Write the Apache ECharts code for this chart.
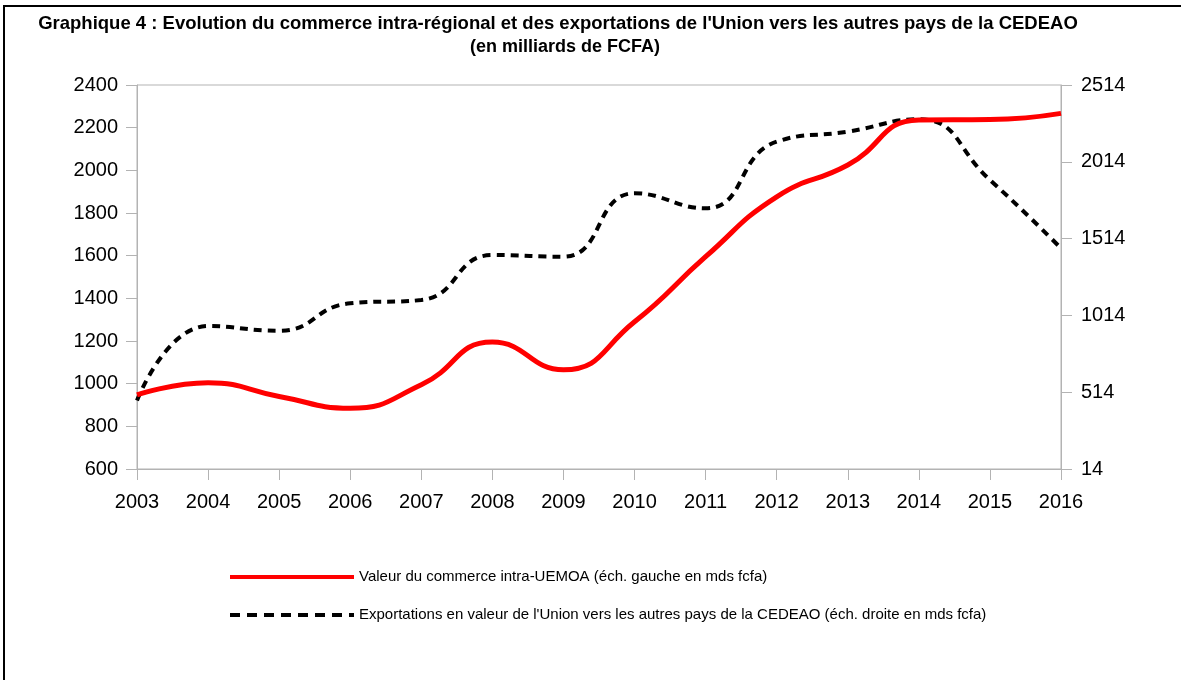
<!DOCTYPE html>
<html>
<head>
<meta charset="utf-8">
<script src="https://cdn.jsdelivr.net/npm/echarts@6/dist/echarts.min.js"></script>
<style>
  html, body { margin: 0; padding: 0; background: #fff; }
  #main { width: 1181px; height: 680px; }
</style>
</head>
<body>
<div id="main"></div>
<script>
// années
var years = ['2003', '2004', '2005', '2006', '2007', '2008', '2009', '2010', '2011', '2012', '2013', '2014', '2015', '2016'];
// commerce intra-UEMOA (éch. gauche)
var intraUemoa = [947, 1004, 940, 885, 995, 1195, 1065, 1290, 1595, 1876, 2025, 2236, 2238, 2267];
// exportations vers la CEDEAO (éch. droite)
var exportsCedeao = [460, 945, 914, 1093, 1114, 1407, 1396, 1809, 1711, 2145, 2210, 2291, 1896, 1451];

var nameIntra = 'Valeur du commerce intra-UEMOA (éch. gauche en mds fcfa)';
var nameExport = "Exportations en valeur de l'Union vers les autres pays de la CEDEAO (éch. droite en mds fcfa)";

var chart = echarts.init(document.getElementById('main'));

var axisGray = '#b3b3b3';
var font = 'Liberation Sans, Arial, sans-serif';
// pas de séparateur de milliers
var plain = function (v) { return String(v); };

chart.setOption({
  animation: false,
  textStyle: { fontFamily: font },
  graphic: [
    {
      type: 'rect',
      shape: { x: 4, y: 6, width: 1200, height: 700 },
      style: { fill: 'none', stroke: '#000', lineWidth: 2 },
      silent: true
    },
    {
      type: 'text',
      x: 558, y: 14,
      style: {
        text: "Graphique 4 : Evolution du commerce intra-régional et des exportations de l'Union vers les autres pays de la CEDEAO",
        align: 'center',
        font: 'bold 18.5px ' + font,
        fill: '#000'
      }
    },
    {
      type: 'text',
      x: 565, y: 38,
      style: {
        text: '(en milliards de FCFA)',
        align: 'center',
        font: 'bold 18px ' + font,
        fill: '#000'
      }
    }
  ],
  grid: {
    left: 137, right: 120, top: 85, bottom: 211,
    show: true, borderColor: axisGray, borderWidth: 1, backgroundColor: 'transparent'
  },
  legend: {
    orient: 'vertical',
    left: 228, top: 567, padding: 0,
    itemWidth: 124, itemHeight: 20, itemGap: 18,
    itemStyle: { opacity: 0 },
    textStyle: { fontSize: 15, color: '#000', fontFamily: font, lineHeight: 20 },
    data: [
      { name: nameIntra, lineStyle: { width: 4, color: '#ff0000' } },
      { name: nameExport, lineStyle: { width: 4, color: '#000', type: [10, 7] } }
    ]
  },
  xAxis: {
    type: 'category',
    data: years,
    boundaryGap: false,
    axisLine: { lineStyle: { color: axisGray } },
    axisTick: { alignWithLabel: true, length: 11, lineStyle: { color: axisGray } },
    axisLabel: { fontSize: 20, color: '#000', margin: 23 },
    splitLine: { show: false }
  },
  yAxis: [
    {
      type: 'value',
      min: 600, max: 2400, interval: 200,
      axisLine: { show: true, lineStyle: { color: axisGray } },
      axisTick: { show: true, length: 11, lineStyle: { color: axisGray } },
      axisLabel: { fontSize: 20, color: '#000', margin: 19, formatter: plain },
      splitLine: { show: false }
    },
    {
      type: 'value',
      min: 14, max: 2514, interval: 500,
      axisLine: { show: true, lineStyle: { color: axisGray } },
      axisTick: { show: true, length: 11, lineStyle: { color: axisGray } },
      axisLabel: { fontSize: 20, color: '#000', margin: 20, formatter: plain },
      splitLine: { show: false }
    }
  ],
  series: [
    {
      name: nameIntra,
      type: 'line',
      yAxisIndex: 0,
      data: intraUemoa,
      smooth: 0.5,
      symbol: 'none',
      lineStyle: { color: '#ff0000', width: 5 },
      itemStyle: { color: '#ff0000' },
      z: 3
    },
    {
      name: nameExport,
      type: 'line',
      yAxisIndex: 1,
      data: exportsCedeao,
      smooth: 0.5,
      symbol: 'none',
      lineStyle: { color: '#000', width: 4, type: [8, 6] },
      itemStyle: { color: '#000' },
      z: 2
    }
  ]
});
</script>
</body>
</html>
